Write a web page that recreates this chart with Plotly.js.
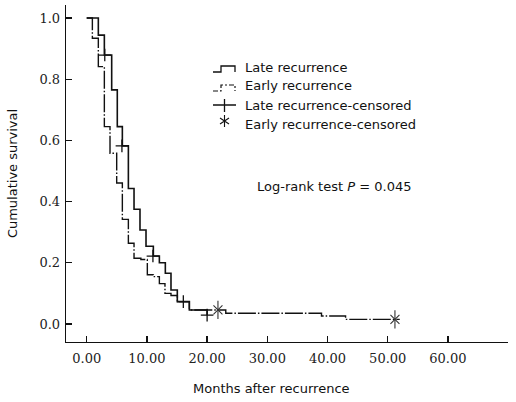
<!DOCTYPE html>
<html>
<head>
<meta charset="utf-8">
<script src="https://cdn.plot.ly/plotly-3.0.1.min.js"></script>
<style>
  html, body { margin: 0; padding: 0; background: #fff; }
  #chart { width: 516px; height: 402px; }
</style>
</head>
<body>
<div id="chart"></div>
<script>
// ---- Data ----
const lateTimes = [0, 1.93, 2.93, 4.15, 5.08, 5.92, 6.92, 7.86, 8.85, 9.85, 11.07, 12.07, 13.06, 14.0, 15.05, 17.05, 20.0];
const lateSurv  = [1.0, 0.944, 0.879, 0.765, 0.645, 0.582, 0.443, 0.375, 0.307, 0.254, 0.222, 0.200, 0.166, 0.111, 0.073, 0.046, 0.029];
const earlyTimes = [0, 0.94, 1.93, 2.93, 3.87, 4.98, 5.92, 6.92, 7.86, 9.0, 10.07, 11.07, 12.07, 13.0, 14.0, 15.06, 17.05, 23.1, 39.0, 43.0, 52.0];
const earlySurv  = [1.0, 0.934, 0.841, 0.645, 0.558, 0.461, 0.342, 0.264, 0.215, 0.211, 0.161, 0.155, 0.132, 0.100, 0.093, 0.073, 0.046, 0.035, 0.026, 0.015, 0.015];
const lateCensoredTimes = [3.0, 5.85, 11.0, 16.05, 20.0];
const lateCensoredSurv  = [0.879, 0.582, 0.222, 0.073, 0.029];
const earlyCensoredTimes = [21.8, 51.2];
const earlyCensoredSurv  = [0.046, 0.015];
const xTickValues = [0, 10, 20, 30, 40, 50, 60];
const yTickValues = [0, 0.2, 0.4, 0.6, 0.8, 1.0];
const legendLabels = ["Late recurrence", "Early recurrence", "Late recurrence-censored", "Early recurrence-censored"];
const testLabel = "Log-rank test <i>P</i> = 0.045";
const xTitle = "Months after recurrence";
const yTitle = "Cumulative survival";

// ---- Layout helpers (pixel -> paper) ----
const W = 516, H = 402;
const M = {l: 66, r: 8, t: 5, b: 60};
const PW = W - M.l - M.r, PH = H - M.t - M.b;
const px = v => (v - M.l) / PW;
const py = v => (H - M.b - v) / PH;

const INK = '#111';
const earlyDash = '18px,2px,1.5px,2px';

const traces = [
  { x: lateTimes, y: lateSurv, type: 'scatter', mode: 'lines', line: {shape: 'hv', color: INK, width: 1.6}, showlegend: false, name: legendLabels[0] },
  { x: earlyTimes, y: earlySurv, type: 'scatter', mode: 'lines', line: {shape: 'hv', color: INK, width: 1.4, dash: earlyDash}, showlegend: false, name: legendLabels[1] },
  { x: lateCensoredTimes, y: lateCensoredSurv, type: 'scatter', mode: 'markers', marker: {symbol: 'cross-thin-open', size: 9, color: INK, line: {color: INK, width: 1.3}}, showlegend: false, name: legendLabels[2] },
  { x: earlyCensoredTimes, y: earlyCensoredSurv, type: 'scatter', mode: 'markers', marker: {symbol: 'x-thin-open', size: 9, color: '#333', line: {color: '#333', width: 1.1}}, showlegend: false, name: legendLabels[3] },
  { x: earlyCensoredTimes, y: earlyCensoredSurv, type: 'scatter', mode: 'markers', marker: {symbol: 'line-ns-open', size: 13, color: '#333', line: {color: '#333', width: 1.1}}, showlegend: false, hoverinfo: 'skip' }
];

// Manual legend (step icons like the reference)
const legendRows = [67, 86, 105, 125];
const iconL = 213, iconR = 236, textX = 243;
function pathFrom(points) {
  return points.map((p, i) => (i ? 'L' : 'M') + px(p[0]).toFixed(5) + ',' + py(p[1]).toFixed(5)).join(' ');
}
function segs(list) { return list.map(s => pathFrom(s)).join(' '); }
const shapes = [
  { type: 'path', xref: 'paper', yref: 'paper', path: pathFrom([[iconL, legendRows[0] + 5], [iconL + 8, legendRows[0] + 5], [iconL + 8, legendRows[0] - 1], [iconR - 1, legendRows[0] - 1], [iconR - 1, legendRows[0] + 5]]), line: {color: INK, width: 1.3} },
  { type: 'path', xref: 'paper', yref: 'paper', path: pathFrom([[iconL, legendRows[1] + 5], [iconL + 8, legendRows[1] + 5], [iconL + 8, legendRows[1] - 1], [iconR - 1, legendRows[1] - 1], [iconR - 1, legendRows[1] + 5]]), line: {color: INK, width: 1.2, dash: '5px,2px,2px,2px'} },
  { type: 'path', xref: 'paper', yref: 'paper', path: segs([[[iconL, legendRows[2]], [iconR, legendRows[2]]], [[224.5, legendRows[2] - 6], [224.5, legendRows[2] + 7]]]), line: {color: INK, width: 1.3} },
  { type: 'path', xref: 'paper', yref: 'paper', path: segs([[[224.5, legendRows[3] - 10], [224.5, legendRows[3] + 2]], [[220, legendRows[3] - 7], [229, legendRows[3] - 1]], [[229, legendRows[3] - 7], [220, legendRows[3] - 1]]]), line: {color: INK, width: 1.1} }
];

const textFont = {family: 'DejaVu Sans, Verdana, sans-serif', size: 13, color: INK};
const annotations = legendLabels.map((t, i) => ({
  text: t, xref: 'paper', yref: 'paper', x: px(textX), y: py(legendRows[i]), xanchor: 'left', yanchor: 'middle', showarrow: false, font: textFont
}));
annotations.push({ text: testLabel, xref: 'paper', yref: 'paper', x: px(333.5), y: py(186), xanchor: 'center', yanchor: 'middle', showarrow: false, font: textFont });
annotations.push({ text: xTitle, xref: 'paper', yref: 'paper', x: px(271), y: py(388), xanchor: 'center', yanchor: 'middle', showarrow: false, font: textFont });

const layout = {
  width: W, height: H,
  margin: M,
  paper_bgcolor: '#fff', plot_bgcolor: '#fff',
  showlegend: false,
  xaxis: {
    range: [-3.44, 69.98], showgrid: false, zeroline: false,
    showline: true, linecolor: INK, linewidth: 1.3,
    ticks: 'inside', ticklen: 6, tickwidth: 1.3, tickcolor: INK,
    tickvals: xTickValues, tickformat: '.2f',
    tickfont: {family: 'DejaVu Serif, serif', size: 13, color: '#222'},
    ticklabelstandoff: 4
  },
  yaxis: {
    range: [-0.0588, 1.0425], showgrid: false, zeroline: false,
    showline: true, linecolor: INK, linewidth: 1.3,
    ticks: 'inside', ticklen: 6, tickwidth: 1.3, tickcolor: INK,
    tickvals: yTickValues, tickformat: '.1f',
    tickfont: {family: 'DejaVu Serif, serif', size: 13, color: '#222'},
    ticklabelstandoff: 2,
    title: {text: yTitle, font: textFont, standoff: 19}
  },
  shapes: shapes,
  annotations: annotations
};

Plotly.newPlot('chart', traces, layout, {displayModeBar: false, staticPlot: true});
</script>
</body>
</html>
